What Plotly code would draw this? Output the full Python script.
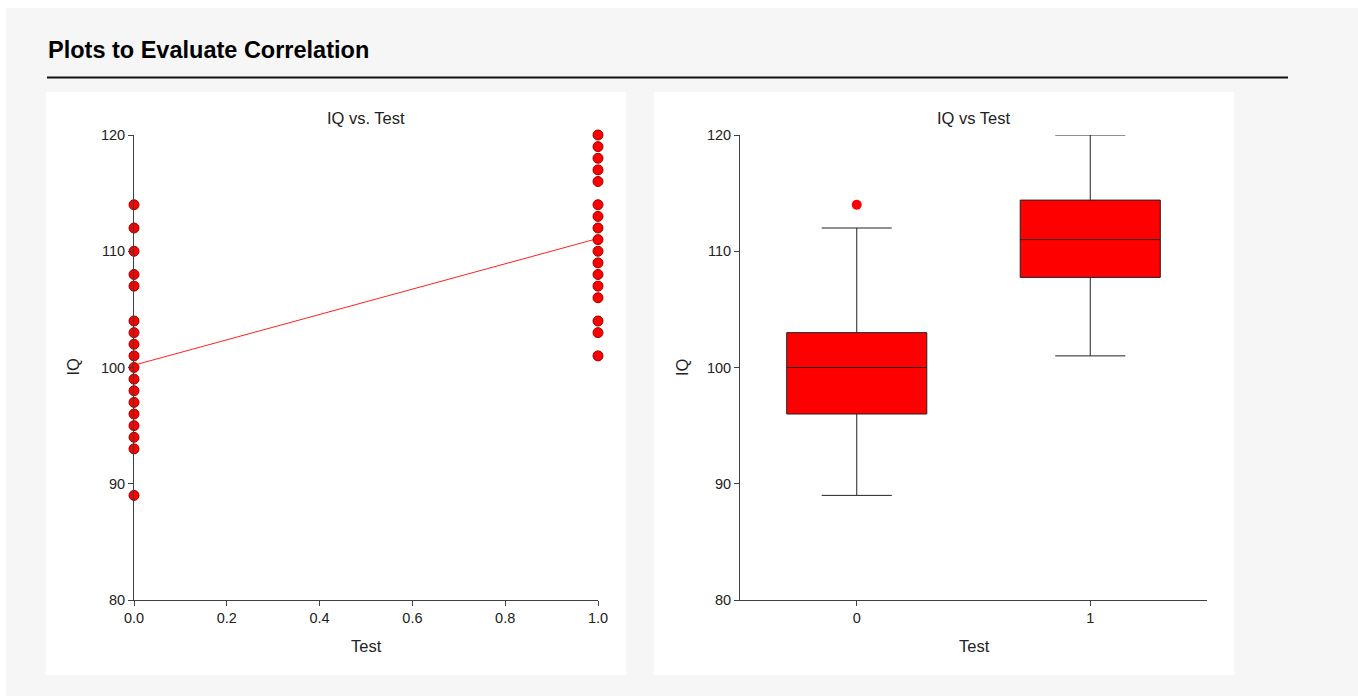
import plotly.graph_objects as go

# ---- data ----
iq_test0 = [114, 112, 110, 108, 107, 104, 103, 102, 101, 100, 99, 98, 97, 96, 95, 94, 93, 89]
iq_test1 = [120, 119, 118, 117, 116, 114, 113, 112, 111, 110, 109, 108, 107, 106, 104, 103, 101]
fit_x = [0.0, 1.0]
fit_y = [100.2, 111.1]

box_groups = [0, 1]
box_q1 = [96, 107.75]
box_median = [100, 111]
box_q3 = [103, 114.4]
box_lower = [89, 101]
box_upper = [112, 120]
outlier_x = [0]
outlier_y = [114]

x_ticks_left = [0.0, 0.2, 0.4, 0.6, 0.8, 1.0]
y_ticks = [80, 90, 100, 110, 120]

# ---- page geometry ----
W, H = 1352, 688
OX, OY = 6, 8


def px(x):
    return (x - OX) / W


def py(y):
    return 1 - (y - OY) / H


FONT = "Arial, 'Liberation Sans', sans-serif"
AX = "#404040"
TXT = "#222222"

fig = go.Figure()

xs0 = [0] * len(iq_test0)
xs1 = [1] * len(iq_test1)
fig.add_trace(go.Scatter(x=fit_x, y=fit_y, mode="lines",
                         line=dict(color="#ff2020", width=1), xaxis="x", yaxis="y",
                         showlegend=False, hoverinfo="skip"))
fig.add_trace(go.Scatter(x=xs0 + xs1, y=iq_test0 + iq_test1, mode="markers",
                         marker=dict(color="#ff0000", size=10, line=dict(color="#990000", width=1)),
                         cliponaxis=False, xaxis="x", yaxis="y", showlegend=False))

fig.add_trace(go.Box(x=box_groups, q1=box_q1, median=box_median, q3=box_q3,
                     lowerfence=box_lower, upperfence=box_upper,
                     fillcolor="#ff0000", line=dict(color="#222222", width=1),
                     width=0.6, whiskerwidth=0.5, boxpoints=False,
                     xaxis="x2", yaxis="y2", showlegend=False))
fig.add_trace(go.Scatter(x=outlier_x, y=outlier_y, mode="markers",
                         marker=dict(color="#ff0000", size=10),
                         cliponaxis=False, xaxis="x2", yaxis="y2", showlegend=False))

axis_common = dict(showgrid=False, zeroline=False, showline=True, linecolor=AX, linewidth=1,
                   ticks="outside", ticklen=5, tickcolor=AX, tickwidth=1, automargin=False,
                   tickfont=dict(family=FONT, size=14.5, color=TXT), fixedrange=True)

shapes = [
    dict(type="rect", xref="paper", yref="paper", x0=px(46), x1=px(626), y0=py(675), y1=py(92),
         fillcolor="white", line=dict(width=0), layer="below"),
    dict(type="rect", xref="paper", yref="paper", x0=px(654), x1=px(1234), y0=py(675), y1=py(92),
         fillcolor="white", line=dict(width=0), layer="below"),
    dict(type="line", xref="paper", yref="paper", x0=px(47), x1=px(1288), y0=py(77.5), y1=py(77.5),
         line=dict(color="#111111", width=2)),
]

annotations = [
    dict(text="<b>Plots to Evaluate Correlation</b>", x=px(46), y=py(50), xref="paper", yref="paper",
         xanchor="left", yanchor="middle", showarrow=False, font=dict(family=FONT, size=23.5, color="#000")),
    dict(text="IQ vs. Test", x=px(366), y=py(118), xref="paper", yref="paper",
         xanchor="center", yanchor="middle", showarrow=False, font=dict(family=FONT, size=16.5, color=TXT)),
    dict(text="IQ vs Test", x=px(973.5), y=py(118), xref="paper", yref="paper",
         xanchor="center", yanchor="middle", showarrow=False, font=dict(family=FONT, size=16.5, color=TXT)),
    dict(text="Test", x=px(366), y=py(646), xref="paper", yref="paper",
         xanchor="center", yanchor="middle", showarrow=False, font=dict(family=FONT, size=16.5, color=TXT)),
    dict(text="Test", x=px(974), y=py(646), xref="paper", yref="paper",
         xanchor="center", yanchor="middle", showarrow=False, font=dict(family=FONT, size=16.5, color=TXT)),
    dict(text="IQ", x=px(72.5), y=py(367), xref="paper", yref="paper", textangle=-90,
         xanchor="center", yanchor="middle", showarrow=False, font=dict(family=FONT, size=16.5, color=TXT)),
    dict(text="IQ", x=px(682), y=py(367), xref="paper", yref="paper", textangle=-90,
         xanchor="center", yanchor="middle", showarrow=False, font=dict(family=FONT, size=16.5, color=TXT)),
]

fig.update_layout(
    width=W, height=H, margin=dict(l=0, r=0, t=0, b=0, pad=0, autoexpand=False), autosize=False,
    paper_bgcolor="#f6f6f6", plot_bgcolor="white", showlegend=False,
    xaxis=dict(domain=[px(134), px(598)], range=[0, 1], tickvals=x_ticks_left,
               tickformat=".1f", anchor="y", **axis_common),
    yaxis=dict(domain=[py(600), py(135)], range=[80, 120], tickvals=y_ticks, anchor="x", **axis_common),
    xaxis2=dict(domain=[px(740), px(1207)], range=[-0.5, 1.5], tickvals=box_groups,
                ticktext=[str(g) for g in box_groups], anchor="y2", **axis_common),
    yaxis2=dict(domain=[py(600), py(135)], range=[80, 120], tickvals=y_ticks, anchor="x2", **axis_common),
    shapes=shapes, annotations=annotations,
)

fig.write_html("out.html", config=dict(displayModeBar=False),
               post_script="document.body.style.margin='8px 0 0 6px';document.body.style.overflow='hidden';")
